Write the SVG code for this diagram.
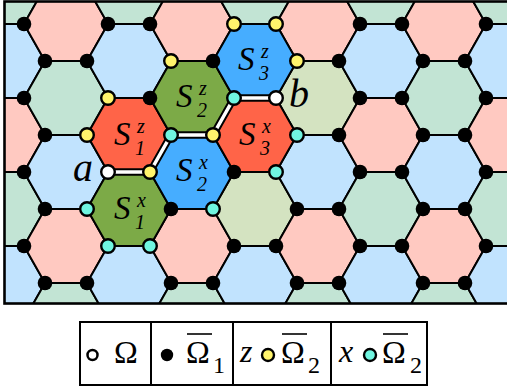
<svg xmlns="http://www.w3.org/2000/svg" xmlns:xlink="http://www.w3.org/1999/xlink" width="507" height="392" viewBox="0 0 507 392">
<style>
.hx{stroke:#000;stroke-width:2;stroke-linejoin:round}
.p{fill:#FFC9C1}.b{fill:#C1E3FE}.g{fill:#C2E4D4}.r{fill:#FF6448}.o{fill:#7CAA47}.B{fill:#46ADFF}.l{fill:#D4E3C1}
.d{fill:#000}
.y,.c,.w{stroke:#000;stroke-width:2.4}
.y{fill:#FFF46C}.c{fill:#70F5E0}.w{fill:#fff}
text{font-family:"Liberation Serif","Times New Roman",serif;fill:#000}
.it{font-style:italic}
.S{font-size:33px;font-style:italic}
.ss{font-size:20px}
.ab{font-size:40px;font-style:italic}
.lg{font-size:32px}
.lgs{font-size:24px}
.ol{stroke:#000;stroke-width:1.6}
</style>
<defs>
<polygon id="h" points="-42,0 -21,-37 21,-37 42,0 21,37 -21,37"/>
<clipPath id="fr"><rect x="4.5" y="1.5" width="503" height="302"/></clipPath>
</defs>
<g id="lattice" clip-path="url(#fr)">
<g id="background-hexes" class="hx">
<use xlink:href="#h" x="3" y="-13" class="g"/>
<use xlink:href="#h" x="3" y="61" class="b"/>
<use xlink:href="#h" x="3" y="135" class="p"/>
<use xlink:href="#h" x="3" y="209" class="g"/>
<use xlink:href="#h" x="3" y="283" class="b"/>
<use xlink:href="#h" x="66" y="24" class="p"/>
<use xlink:href="#h" x="66" y="98" class="g"/>
<use xlink:href="#h" x="66" y="172" class="b"/>
<use xlink:href="#h" x="66" y="246" class="p"/>
<use xlink:href="#h" x="66" y="320" class="g"/>
<use xlink:href="#h" x="129" y="-13" class="g"/>
<use xlink:href="#h" x="129" y="61" class="b"/>
<use xlink:href="#h" x="129" y="283" class="b"/>
<use xlink:href="#h" x="192" y="24" class="p"/>
<use xlink:href="#h" x="192" y="246" class="p"/>
<use xlink:href="#h" x="192" y="320" class="g"/>
<use xlink:href="#h" x="255" y="-13" class="g"/>
<use xlink:href="#h" x="255" y="209" class="l"/>
<use xlink:href="#h" x="255" y="283" class="b"/>
<use xlink:href="#h" x="318" y="24" class="p"/>
<use xlink:href="#h" x="318" y="98" class="l"/>
<use xlink:href="#h" x="318" y="172" class="b"/>
<use xlink:href="#h" x="318" y="246" class="p"/>
<use xlink:href="#h" x="318" y="320" class="g"/>
<use xlink:href="#h" x="381" y="-13" class="g"/>
<use xlink:href="#h" x="381" y="61" class="b"/>
<use xlink:href="#h" x="381" y="135" class="p"/>
<use xlink:href="#h" x="381" y="209" class="g"/>
<use xlink:href="#h" x="381" y="283" class="b"/>
<use xlink:href="#h" x="444" y="24" class="p"/>
<use xlink:href="#h" x="444" y="98" class="g"/>
<use xlink:href="#h" x="444" y="172" class="b"/>
<use xlink:href="#h" x="444" y="246" class="p"/>
<use xlink:href="#h" x="444" y="320" class="g"/>
<use xlink:href="#h" x="507" y="-13" class="g"/>
<use xlink:href="#h" x="507" y="61" class="b"/>
<use xlink:href="#h" x="507" y="135" class="p"/>
<use xlink:href="#h" x="507" y="209" class="g"/>
<use xlink:href="#h" x="507" y="283" class="b"/>
</g>
<g id="S1z"><use xlink:href="#h" x="129" y="135" class="hx r"/>
<text class="S" x="114" y="145">S<tspan class="ss" x="137" y="133">z</tspan><tspan class="ss" x="135" y="155">1</tspan></text></g>
<g id="S1x"><use xlink:href="#h" x="129" y="209" class="hx o"/>
<text class="S" x="114" y="219">S<tspan class="ss" x="137" y="207">x</tspan><tspan class="ss" x="135" y="229">1</tspan></text></g>
<g id="S2z"><use xlink:href="#h" x="192" y="98" class="hx o"/>
<text class="S" x="176" y="107">S<tspan class="ss" x="199" y="95">z</tspan><tspan class="ss" x="197" y="117">2</tspan></text></g>
<g id="S2x"><use xlink:href="#h" x="192" y="172" class="hx B"/>
<text class="S" x="176" y="181">S<tspan class="ss" x="199" y="169">x</tspan><tspan class="ss" x="197" y="191">2</tspan></text></g>
<g id="S3z"><use xlink:href="#h" x="255" y="61" class="hx B"/>
<text class="S" x="238" y="70">S<tspan class="ss" x="261" y="58">z</tspan><tspan class="ss" x="259" y="80">3</tspan></text></g>
<g id="S3x"><use xlink:href="#h" x="255" y="135" class="hx r"/>
<text class="S" x="239" y="145">S<tspan class="ss" x="262" y="133">x</tspan><tspan class="ss" x="260" y="155">3</tspan></text></g>
<g id="connectors">
<polyline points="108,172 150,172 171,135 213,135 234,98 276,98" fill="none" stroke="#000" stroke-width="7.5" stroke-linejoin="miter"/>
<polyline points="108,172 150,172 171,135 213,135 234,98 276,98" fill="none" stroke="#fff" stroke-width="3.5" stroke-linejoin="miter"/>
</g>
<g id="vertices">
<circle class="d" cx="24" cy="24" r="7.3"/><circle class="d" cx="108" cy="24" r="7.3"/><circle class="d" cx="150" cy="24" r="7.3"/><circle class="y" cx="234" cy="24" r="6.8"/><circle class="y" cx="276" cy="24" r="6.8"/><circle class="d" cx="360" cy="24" r="7.3"/><circle class="d" cx="402" cy="24" r="7.3"/><circle class="d" cx="486" cy="24" r="7.3"/>
<circle class="d" cx="45" cy="61" r="7.3"/><circle class="d" cx="87" cy="61" r="7.3"/><circle class="y" cx="171" cy="61" r="6.8"/><circle class="d" cx="213" cy="61" r="7.3"/><circle class="y" cx="297" cy="61" r="6.8"/><circle class="d" cx="339" cy="61" r="7.3"/><circle class="d" cx="423" cy="61" r="7.3"/><circle class="d" cx="465" cy="61" r="7.3"/>
<circle class="d" cx="24" cy="98" r="7.3"/><circle class="y" cx="108" cy="98" r="6.8"/><circle class="d" cx="150" cy="98" r="7.3"/><circle class="c" cx="234" cy="98" r="6.8"/><circle class="d" cx="360" cy="98" r="7.3"/><circle class="d" cx="402" cy="98" r="7.3"/><circle class="d" cx="486" cy="98" r="7.3"/>
<circle class="d" cx="45" cy="135" r="7.3"/><circle class="y" cx="87" cy="135" r="6.8"/><circle class="c" cx="171" cy="135" r="6.8"/><circle class="y" cx="213" cy="135" r="6.8"/><circle class="c" cx="297" cy="135" r="6.8"/><circle class="d" cx="339" cy="135" r="7.3"/><circle class="d" cx="423" cy="135" r="7.3"/><circle class="d" cx="465" cy="135" r="7.3"/>
<circle class="d" cx="24" cy="172" r="7.3"/><circle class="y" cx="150" cy="172" r="6.8"/><circle class="d" cx="234" cy="172" r="7.3"/><circle class="c" cx="276" cy="172" r="6.8"/><circle class="d" cx="360" cy="172" r="7.3"/><circle class="d" cx="402" cy="172" r="7.3"/><circle class="d" cx="486" cy="172" r="7.3"/>
<circle class="d" cx="45" cy="209" r="7.3"/><circle class="c" cx="87" cy="209" r="6.8"/><circle class="d" cx="171" cy="209" r="7.3"/><circle class="c" cx="213" cy="209" r="6.8"/><circle class="d" cx="297" cy="209" r="7.3"/><circle class="d" cx="339" cy="209" r="7.3"/><circle class="d" cx="423" cy="209" r="7.3"/><circle class="d" cx="465" cy="209" r="7.3"/>
<circle class="d" cx="24" cy="246" r="7.3"/><circle class="c" cx="108" cy="246" r="6.8"/><circle class="c" cx="150" cy="246" r="6.8"/><circle class="d" cx="234" cy="246" r="7.3"/><circle class="d" cx="276" cy="246" r="7.3"/><circle class="d" cx="360" cy="246" r="7.3"/><circle class="d" cx="402" cy="246" r="7.3"/><circle class="d" cx="486" cy="246" r="7.3"/>
<circle class="d" cx="45" cy="283" r="7.3"/><circle class="d" cx="87" cy="283" r="7.3"/><circle class="d" cx="171" cy="283" r="7.3"/><circle class="d" cx="213" cy="283" r="7.3"/><circle class="d" cx="297" cy="283" r="7.3"/><circle class="d" cx="339" cy="283" r="7.3"/><circle class="d" cx="423" cy="283" r="7.3"/><circle class="d" cx="465" cy="283" r="7.3"/>
</g>
<g id="a"><circle class="w" cx="108" cy="172" r="6.8"/><text class="ab" x="73" y="181">a</text></g>
<g id="b"><circle class="w" cx="276" cy="98" r="6.8"/><text class="ab" x="289" y="107">b</text></g>
</g>
<rect id="frame" x="4.5" y="1.5" width="520" height="302" fill="none" stroke="#000" stroke-width="2.6"/>
<g id="legend">
<rect x="80" y="322" width="347" height="63" fill="#fff" stroke="#000" stroke-width="2"/>
<line x1="151" y1="322" x2="151" y2="385" stroke="#000" stroke-width="2"/>
<line x1="233" y1="322" x2="233" y2="385" stroke="#000" stroke-width="2"/>
<line x1="331" y1="322" x2="331" y2="385" stroke="#000" stroke-width="2"/>
<circle cx="92.5" cy="355" r="5" fill="#fff" stroke="#000" stroke-width="2.5"/>
<text class="lg" x="114" y="363">Ω</text>
<circle cx="167" cy="355" r="6.2" fill="#000"/>
<line class="ol" x1="187" y1="334" x2="212" y2="334"/>
<text class="lg" x="186" y="363">Ω<tspan class="lgs" x="213" y="373">1</tspan></text>
<text class="lg it" x="240" y="362">z</text>
<circle class="y" cx="268" cy="355" r="6" stroke-width="2"/>
<line class="ol" x1="282" y1="334" x2="307" y2="334"/>
<text class="lg" x="281" y="363">Ω<tspan class="lgs" x="308" y="373">2</tspan></text>
<text class="lg it" x="339" y="362">x</text>
<circle class="c" cx="370" cy="355" r="6" stroke-width="2"/>
<line class="ol" x1="383" y1="334" x2="408" y2="334"/>
<text class="lg" x="382" y="363">Ω<tspan class="lgs" x="410" y="373">2</tspan></text>
</g>
</svg>
